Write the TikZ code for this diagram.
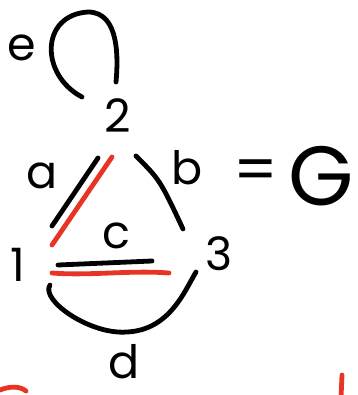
\documentclass[tikz,border=0pt]{standalone}
\usepackage{fontspec}
\setmainfont{Poppins}
\usepackage{tikz}
\usetikzlibrary{positioning}

\definecolor{inkred}{RGB}{232,52,36}

\begin{document}
\begin{tikzpicture}[
  x=1pt, y=-1pt,
  ink/.style={line width=4.8pt, line cap=round, line join=round, black},
  redink/.style={ink, inkred},
  lbl/.style={font=\fontsize{46}{46}\selectfont, inner sep=0pt}
]
\useasboundingbox (0,0) rectangle (357,395);

% vertices
\node[lbl] (v1) at (18,265) {1};
\node[lbl] (v2) at (118,116) {2};
\node[lbl] (v3) at (219,254) {3};

% edge labels
\node[lbl] (le) at (22,48) {e};
\node[lbl] (la) at (42,176) {a};
\node[lbl] (lb) at (187,168) {b};
\node[lbl] (lc) at (116,236) {c};
\node[lbl] (ld) at (124,362) {d};
\node[lbl, font=\fontsize{62}{62}\selectfont] (eq) at (256,176) {=};
\node[lbl, font=\fontsize{84}{84}\selectfont] (lg) at (321,176) {G};

% edge end points
\coordinate (a1) at (52,226);  \coordinate (a2) at (98,158);
\coordinate (r1) at (52,245);  \coordinate (r2) at (112,157);
\coordinate (b1) at (136,156); \coordinate (b2) at (183,229);
\coordinate (c1) at (58,265);  \coordinate (c2) at (152,261);
\coordinate (s1) at (52,273);  \coordinate (s2) at (169,273);
\coordinate (d1) at (50,285);  \coordinate (d2) at (196,272);
\coordinate (e1) at (82,97);   \coordinate (e2) at (116,82);

% edges
\draw[ink] (a1) -- (a2);
\draw[redink] (r1) -- (r2);
\draw[ink] (b1) .. controls (160,180) .. (b2);
\draw[ink] (c1) -- (c2);
\draw[redink] (s1) .. controls (90,276) and (130,270) .. (s2);
\draw[ink] (d1) .. controls (40,300) and (90,335) .. (127,332)
  .. controls (170,330) and (185,290) .. (d2);
\draw[ink] (e1) .. controls (40,75) and (40,15) .. (88,12)
  .. controls (120,12) and (118,60) .. (e2);

% marks at the bottom edge
\coordinate (m1) at (0,390); \coordinate (m2) at (26,391);
\coordinate (t1) at (342,375); \coordinate (t2) at (341,398);
\draw[redink] (m1) .. controls (10,386) and (20,386) .. (m2);
\draw[redink] (t1) -- (t2);
\end{tikzpicture}
\end{document}
